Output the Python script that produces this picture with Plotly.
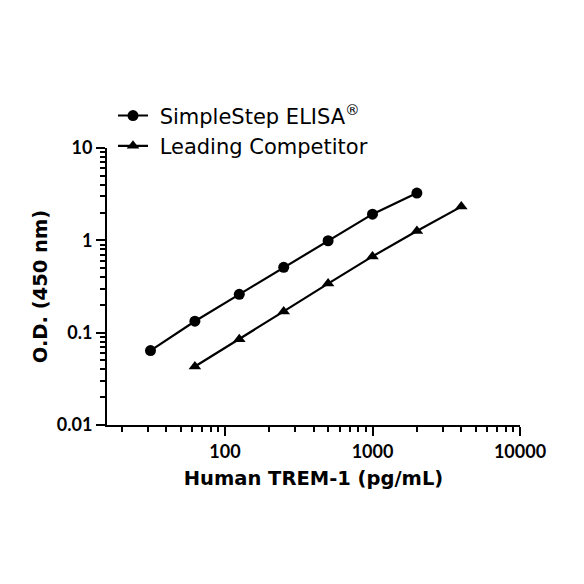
import plotly.graph_objects as go

conc_simple = [31.25, 62.5, 125, 250, 500, 1000, 2000]
od_simple = [0.064, 0.133, 0.26, 0.51, 0.99, 1.92, 3.25]
conc_comp = [62.5, 125, 250, 500, 1000, 2000, 4000]
od_comp = [0.043, 0.085, 0.17, 0.34, 0.67, 1.26, 2.32]

x_ticks = [100, 1000, 10000]
x_ticktext = ["100", "1000", "10000"]
y_ticks = [0.01, 0.1, 1, 10]
y_ticktext = ["0.01", "0.1", "1", "10"]

TICK_FONT = "Lato"
TITLE_FONT = "DejaVu Sans"

fig = go.Figure()
fig.add_trace(go.Scatter(
    x=conc_simple, y=od_simple, mode="lines+markers",
    name="\u00a0SimpleStep ELISA<sup>®</sup>",
    line=dict(color="black", width=2.2),
    marker=dict(symbol="circle", size=11, color="black"),
))
fig.add_trace(go.Scatter(
    x=conc_comp, y=od_comp, mode="lines+markers",
    name="\u00a0Leading Competitor",
    line=dict(color="black", width=2.2),
    marker=dict(symbol="triangle-up", size=11, color="black"),
))

axis_common = dict(
    type="log", showgrid=False, zeroline=False,
    showline=True, linecolor="black", linewidth=2,
    ticks="outside", ticklen=9, tickwidth=2, tickcolor="black",
    tickfont=dict(family=TICK_FONT, size=18, color="black", weight="bold"),
    minor=dict(ticks="outside", ticklen=5, tickwidth=2, tickcolor="black", dtick="D1"),
    automargin=False,
)

fig.update_xaxes(
    **axis_common,
    range=[1.2, 4.0],
    tickvals=x_ticks, ticktext=x_ticktext,
    title=dict(text="Human TREM-1 (pg/mL)", standoff=11,
               font=dict(family=TITLE_FONT, size=19.5, color="black", weight="bold")),
)
fig.update_yaxes(
    **axis_common,
    range=[-2, 1],
    tickvals=y_ticks, ticktext=y_ticktext,
    title=dict(text="O.D. (450 nm)", standoff=4,
               font=dict(family=TITLE_FONT, size=19.5, color="black", weight="bold")),
)

fig.update_layout(
    width=584, height=584,
    margin=dict(l=99, r=72, t=140, b=167, autoexpand=False),
    paper_bgcolor="white", plot_bgcolor="white",
    legend=dict(
        x=0.0145, y=1.19, xanchor="left", yanchor="top",
        font=dict(family=TITLE_FONT, size=21, color="black"),
        bgcolor="rgba(0,0,0,0)", itemwidth=30, tracegroupgap=0,
    ),
    showlegend=True,
)

fig.write_html("out.html")
